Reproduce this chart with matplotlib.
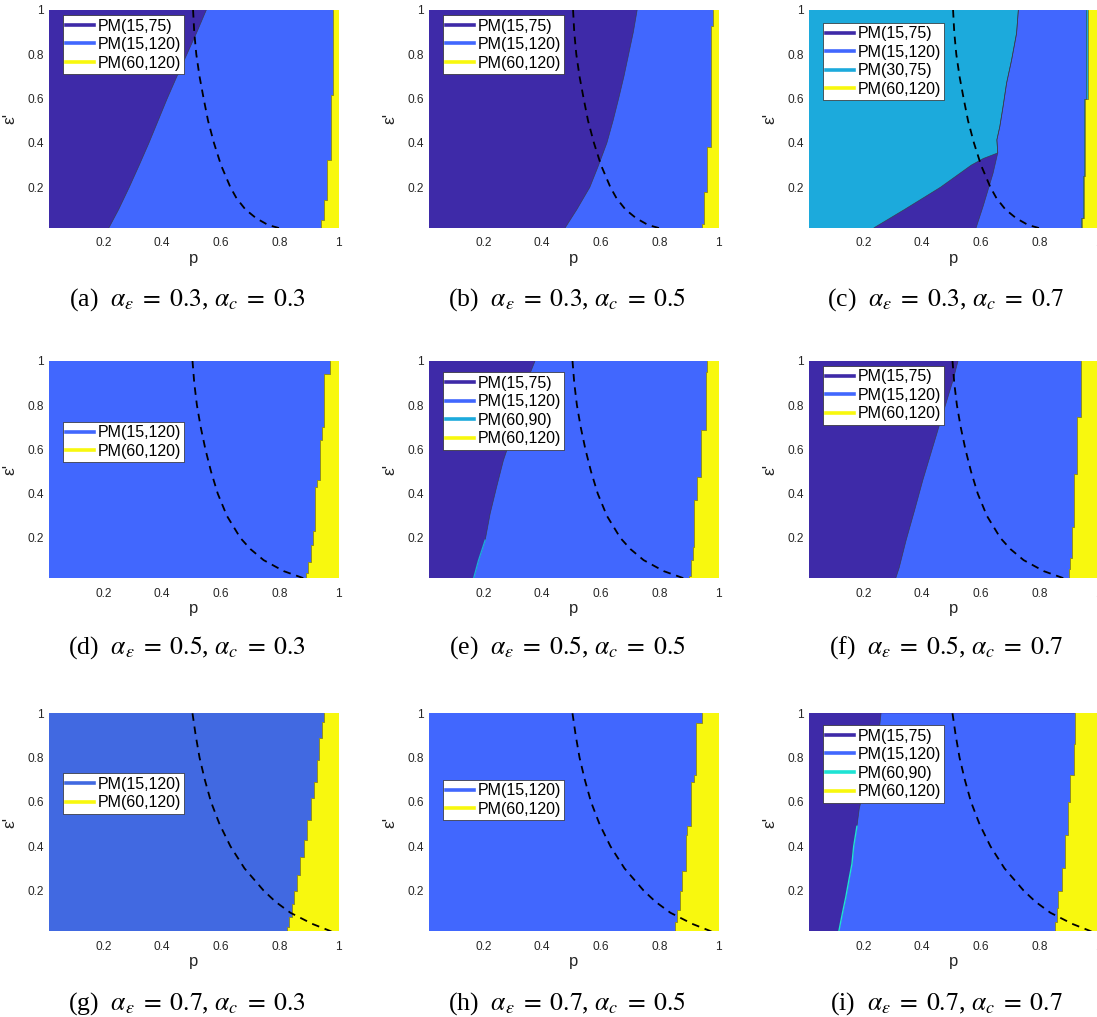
import numpy as np
import matplotlib
matplotlib.use('Agg')
import matplotlib.pyplot as plt
from matplotlib.lines import Line2D

W, H = 1097, 1017

# ---------------- colours (one per policy) ----------------
C_15_75 = '#3E2AA8'
C_15_120 = '#4167FE'
C_15_120_G = '#4169E1'
C_30_75 = '#1CAADC'
C_60_90_E = '#1CAADC'
C_60_90_I = '#1EE3D4'
C_60_120 = '#F8F80E'

# ---------------- dashed threshold curves (one per row) ----------------
curve1_eps = [1.0, 0.9, 0.8, 0.7, 0.6, 0.5, 0.4, 0.3, 0.2, 0.15, 0.1, 0.06, 0.03, 0.016]
curve1_p = [0.505, 0.509, 0.516, 0.527, 0.541, 0.556, 0.576, 0.600, 0.632, 0.653, 0.683, 0.720, 0.760, 0.797]
curve2_eps = [1.0, 0.9, 0.8, 0.7, 0.6, 0.5, 0.4, 0.3, 0.2, 0.15, 0.1, 0.05, 0.015, 0.005]
curve2_p = [0.503, 0.509, 0.518, 0.531, 0.547, 0.566, 0.589, 0.620, 0.666, 0.700, 0.745, 0.814, 0.888, 0.910]
curve3_eps = [1.0, 0.9, 0.8, 0.7, 0.6, 0.5, 0.4, 0.3, 0.2, 0.15, 0.1, 0.05, 0.02, 0.0]
curve3_p = [0.503, 0.514, 0.527, 0.545, 0.566, 0.595, 0.632, 0.680, 0.745, 0.785, 0.836, 0.910, 0.967, 1.0]

# ---------------- region boundaries (p as a function of eps') ----------------
# smooth boundaries: eps levels and p values
a_b1_eps = [0.0, 0.05, 0.1, 0.2, 0.3, 0.4, 0.5, 0.6, 0.7, 0.8, 0.9, 1.0]
a_b1_p = [0.212, 0.232, 0.252, 0.288, 0.322, 0.355, 0.386, 0.417, 0.450, 0.484, 0.518, 0.550]
# stair boundaries: break levels (n+1) and p values (n)
a_b2_lv = [0.0, 0.053, 0.143, 0.323, 0.617, 1.0]
a_b2_p = [0.941, 0.950, 0.961, 0.973, 0.982]

b_b1_eps = [0.0, 0.1, 0.2, 0.3, 0.4, 0.5, 0.6, 0.7, 0.8, 0.9, 1.0]
b_b1_p = [0.470, 0.518, 0.562, 0.592, 0.620, 0.641, 0.660, 0.678, 0.694, 0.710, 0.723]
b_b2_lv = [0.0, 0.035, 0.18, 0.38, 0.93, 1.0]
b_b2_p = [0.944, 0.952, 0.961, 0.973, 0.982]

c_b1_eps = [0.0, 0.018, 0.1, 0.2, 0.3, 0.33, 0.355, 0.414, 0.474, 0.564, 0.67, 0.774, 0.895, 1.0]
c_b1_p = [0.222, 0.237, 0.340, 0.462, 0.567, 0.608, 0.657, 0.654, 0.664, 0.675, 0.687, 0.704, 0.721, 0.727]
c_b2_eps = [0.0, 0.02, 0.113, 0.188, 0.263, 0.355, 0.414, 0.474, 0.564, 0.67, 0.774, 0.895, 1.0]
c_b2_p = [0.580, 0.584, 0.607, 0.624, 0.641, 0.657, 0.654, 0.664, 0.675, 0.687, 0.704, 0.721, 0.727]
c_b3s_lv = [0.0, 0.06, 0.25, 0.6, 1.0]
c_b3s_p = [0.939, 0.946, 0.951, 0.958]
c_b3_lv = [0.0, 0.06, 0.25, 0.6, 1.0]
c_b3_p = [0.943, 0.950, 0.955, 0.963]

d_b1_lv = [0.0, 0.04, 0.09, 0.17, 0.23, 0.43, 0.46, 0.64, 0.70, 0.94, 1.0]
d_b1_p = [0.888, 0.897, 0.905, 0.913, 0.920, 0.928, 0.936, 0.943, 0.952, 0.970]

e_b1_eps = [0.0, 0.014, 0.097, 0.19, 0.31, 0.43, 0.55, 0.64, 0.79, 0.943, 1.0]
e_b1_p = [0.163, 0.166, 0.183, 0.206, 0.223, 0.245, 0.268, 0.291, 0.325, 0.359, 0.376]
e_b2_lv = [0.0, 0.03, 0.10, 0.16, 0.37, 0.475, 0.686, 0.95, 1.0]
e_b2_p = [0.900, 0.905, 0.912, 0.916, 0.925, 0.940, 0.956, 0.961]
e_thin_top = 0.19   # thin PM(60,90) strip along the boundary below this eps'

f_b1_eps = [0.0, 0.014, 0.067, 0.188, 0.324, 0.46, 0.61, 0.76, 0.912, 1.0]
f_b1_p = [0.306, 0.309, 0.322, 0.345, 0.374, 0.402, 0.436, 0.470, 0.505, 0.522]
f_b2_lv = [0.0, 0.06, 0.11, 0.25, 0.49, 0.746, 1.0]
f_b2_p = [0.900, 0.903, 0.910, 0.915, 0.926, 0.940]

g_b1_lv = [0.0, 0.035, 0.08, 0.14, 0.20, 0.27, 0.35, 0.43, 0.52, 0.62, 0.69, 0.79, 0.89, 0.96, 1.0]
g_b1_p = [0.825, 0.830, 0.842, 0.848, 0.859, 0.870, 0.882, 0.893, 0.905, 0.916, 0.927, 0.933, 0.944, 0.950]

h_b1_lv = [0.0, 0.06, 0.113, 0.20, 0.29, 0.45, 0.49, 0.69, 0.72, 0.955, 1.0]
h_b1_p = [0.853, 0.859, 0.870, 0.876, 0.888, 0.893, 0.905, 0.915, 0.922, 0.942]

i_b1_eps = [0.0, 0.02, 0.10, 0.17, 0.25, 0.32, 0.40, 0.49, 0.57, 0.95, 1.0]
i_b1_p = [0.115, 0.117, 0.129, 0.140, 0.151, 0.161, 0.167, 0.178, 0.186, 0.256, 0.260]
i_b2_lv = [0.0, 0.06, 0.12, 0.20, 0.30, 0.45, 0.60, 0.72, 0.86, 1.0]
i_b2_p = [0.852, 0.858, 0.863, 0.875, 0.886, 0.897, 0.903, 0.915, 0.920]
i_thin_top = 0.49   # thin PM(60,90) strip along the boundary below this eps'

captions = [
    r"(a)  $\alpha_{\varepsilon}\;=\;0.3$, $\alpha_c\;=\;0.3$",
    r"(b)  $\alpha_{\varepsilon}\;=\;0.3$, $\alpha_c\;=\;0.5$",
    r"(c)  $\alpha_{\varepsilon}\;=\;0.3$, $\alpha_c\;=\;0.7$",
    r"(d)  $\alpha_{\varepsilon}\;=\;0.5$, $\alpha_c\;=\;0.3$",
    r"(e)  $\alpha_{\varepsilon}\;=\;0.5$, $\alpha_c\;=\;0.5$",
    r"(f)  $\alpha_{\varepsilon}\;=\;0.5$, $\alpha_c\;=\;0.7$",
    r"(g)  $\alpha_{\varepsilon}\;=\;0.7$, $\alpha_c\;=\;0.3$",
    r"(h)  $\alpha_{\varepsilon}\;=\;0.7$, $\alpha_c\;=\;0.5$",
    r"(i)  $\alpha_{\varepsilon}\;=\;0.7$, $\alpha_c\;=\;0.7$",
]

tick_vals = [0.2, 0.4, 0.6, 0.8, 1.0]
tick_labels = ['0.2', '0.4', '0.6', '0.8', '1']


def stairs(levels, xs):
    ys_out, xs_out = [], []
    for k, x in enumerate(xs):
        ys_out += [levels[k], levels[k + 1]]
        xs_out += [x, x]
    return np.array(ys_out), np.array(xs_out)


def smooth(eps, p):
    return np.array(eps), np.array(p)


panels = [
    dict(bg=C_15_75,
         layers=[(C_15_120, smooth(a_b1_eps, a_b1_p)), (C_60_120, stairs(a_b2_lv, a_b2_p))],
         legend=[('PM(15,75)', C_15_75), ('PM(15,120)', C_15_120), ('PM(60,120)', C_60_120)],
         leg_top=0.977, curve=(curve1_p, curve1_eps)),
    dict(bg=C_15_75,
         layers=[(C_15_120, smooth(b_b1_eps, b_b1_p)), (C_60_120, stairs(b_b2_lv, b_b2_p))],
         legend=[('PM(15,75)', C_15_75), ('PM(15,120)', C_15_120), ('PM(60,120)', C_60_120)],
         leg_top=0.977, curve=(curve1_p, curve1_eps)),
    dict(bg=C_30_75,
         layers=[(C_15_75, smooth(c_b1_eps, c_b1_p)), (C_15_120, smooth(c_b2_eps, c_b2_p)),
                 (C_30_75, stairs(c_b3s_lv, c_b3s_p)), (C_60_120, stairs(c_b3_lv, c_b3_p))],
         legend=[('PM(15,75)', C_15_75), ('PM(15,120)', C_15_120), ('PM(30,75)', C_30_75),
                 ('PM(60,120)', C_60_120)],
         leg_top=0.942, curve=(curve1_p, curve1_eps)),
    dict(bg=C_15_120,
         layers=[(C_60_120, stairs(d_b1_lv, d_b1_p))],
         legend=[('PM(15,120)', C_15_120), ('PM(60,120)', C_60_120)],
         leg_top=0.72, curve=(curve2_p, curve2_eps)),
    dict(bg=C_15_75,
         layers=[(C_15_120, smooth(e_b1_eps, e_b1_p)), (C_60_120, stairs(e_b2_lv, e_b2_p))],
         legend=[('PM(15,75)', C_15_75), ('PM(15,120)', C_15_120), ('PM(60,90)', C_60_90_E),
                 ('PM(60,120)', C_60_120)],
         leg_top=0.947, curve=(curve2_p, curve2_eps),
         thin=(C_60_90_E, smooth(e_b1_eps, e_b1_p), e_thin_top)),
    dict(bg=C_15_75,
         layers=[(C_15_120, smooth(f_b1_eps, f_b1_p)), (C_60_120, stairs(f_b2_lv, f_b2_p))],
         legend=[('PM(15,75)', C_15_75), ('PM(15,120)', C_15_120), ('PM(60,120)', C_60_120)],
         leg_top=0.977, curve=(curve2_p, curve2_eps)),
    dict(bg=C_15_120_G,
         layers=[(C_60_120, stairs(g_b1_lv, g_b1_p))],
         legend=[('PM(15,120)', C_15_120_G), ('PM(60,120)', C_60_120)],
         leg_top=0.724, curve=(curve3_p, curve3_eps)),
    dict(bg=C_15_120,
         layers=[(C_60_120, stairs(h_b1_lv, h_b1_p))],
         legend=[('PM(15,120)', C_15_120), ('PM(60,120)', C_60_120)],
         leg_top=0.694, curve=(curve3_p, curve3_eps)),
    dict(bg=C_15_75,
         layers=[(C_15_120, smooth(i_b1_eps, i_b1_p)), (C_60_120, stairs(i_b2_lv, i_b2_p))],
         legend=[('PM(15,75)', C_15_75), ('PM(15,120)', C_15_120), ('PM(60,90)', C_60_90_I),
                 ('PM(60,120)', C_60_120)],
         leg_top=0.946, curve=(curve3_p, curve3_eps),
         thin=(C_60_90_I, smooth(i_b1_eps, i_b1_p), i_thin_top)),
]

col_left = [49.3, 429.3, 809.3]
row_top = [10.0, 360.7, 713.3]
ax_w, ax_h = 289.3, 217.6
cap_x = [187, 567, 946]
cap_base = [306, 654, 1010]

fig = plt.figure(figsize=(W / 100, H / 100), dpi=100)
fig.patch.set_facecolor('white')

for idx, spec in enumerate(panels):
    r, c = divmod(idx, 3)
    L = col_left[c]
    T = row_top[r]
    ax = fig.add_axes([L / W, 1 - (T + ax_h) / H, ax_w / W, ax_h / H])
    ax.set_facecolor(spec['bg'])
    for color, (yy, xx) in spec['layers']:
        px = np.r_[xx, 1.0, 1.0]
        py = np.r_[yy, yy[-1], yy[0]]
        ax.fill(px, py, color=color, lw=0, zorder=1)
        ax.plot(xx, yy, color='#3a3a3a', lw=0.5, zorder=2, alpha=0.8)
    if 'thin' in spec:
        tcol, (ty, tx), ttop = spec['thin']
        m = ty <= ttop
        ax.plot(tx[m], ty[m], color=tcol, lw=1.0, zorder=2.5)
    cp, ce = spec['curve']
    ax.plot(cp, ce, color='black', lw=1.3, ls=(0, (4.2, 3.2)), zorder=3)
    ax.set_xlim(0.016, 1.0)
    ax.set_ylim(0.018, 1.0)
    ax.set_xticks(tick_vals)
    ax.set_xticklabels(tick_labels)
    ax.set_yticks(tick_vals)
    ax.set_yticklabels(tick_labels)
    ax.tick_params(length=0, labelsize=8.6, colors='#262626')
    ax.tick_params(axis='x', pad=7.0)
    ax.tick_params(axis='y', pad=4.0)
    for lab in ax.get_xticklabels() + ax.get_yticklabels():
        lab.set_family('Liberation Sans')
    for s in ax.spines.values():
        s.set_visible(False)
    ax.set_xlabel('p', fontsize=12, family='Liberation Sans', color='#262626')
    ax.xaxis.set_label_coords(0.5, -23.0 / ax_h)
    ax.set_ylabel("\u03b5'", fontsize=12.5, family='Liberation Sans', color='#262626')
    ax.yaxis.set_label_coords(-32.0 / ax_w, 0.5)

    handles = [Line2D([0], [0], color=col, lw=2.6) for _, col in spec['legend']]
    labels = [lab for lab, _ in spec['legend']]
    leg = ax.legend(handles, labels, loc='upper left', bbox_to_anchor=(0.047, spec['leg_top']),
                    borderaxespad=0, fancybox=False, framealpha=1, edgecolor='#262626',
                    prop={'family': 'Liberation Sans', 'size': 11.5}, borderpad=0.22,
                    labelspacing=0.22, handlelength=1.75, handletextpad=0.2)
    leg.get_frame().set_linewidth(0.5)
    leg.set_zorder(5)

    fig.text(cap_x[c] / W, 1 - cap_base[r] / H, captions[idx], ha='center', va='baseline',
             fontsize=18.5, family='Liberation Serif', math_fontfamily='stix')

fig.savefig('out.png', dpi=100)
